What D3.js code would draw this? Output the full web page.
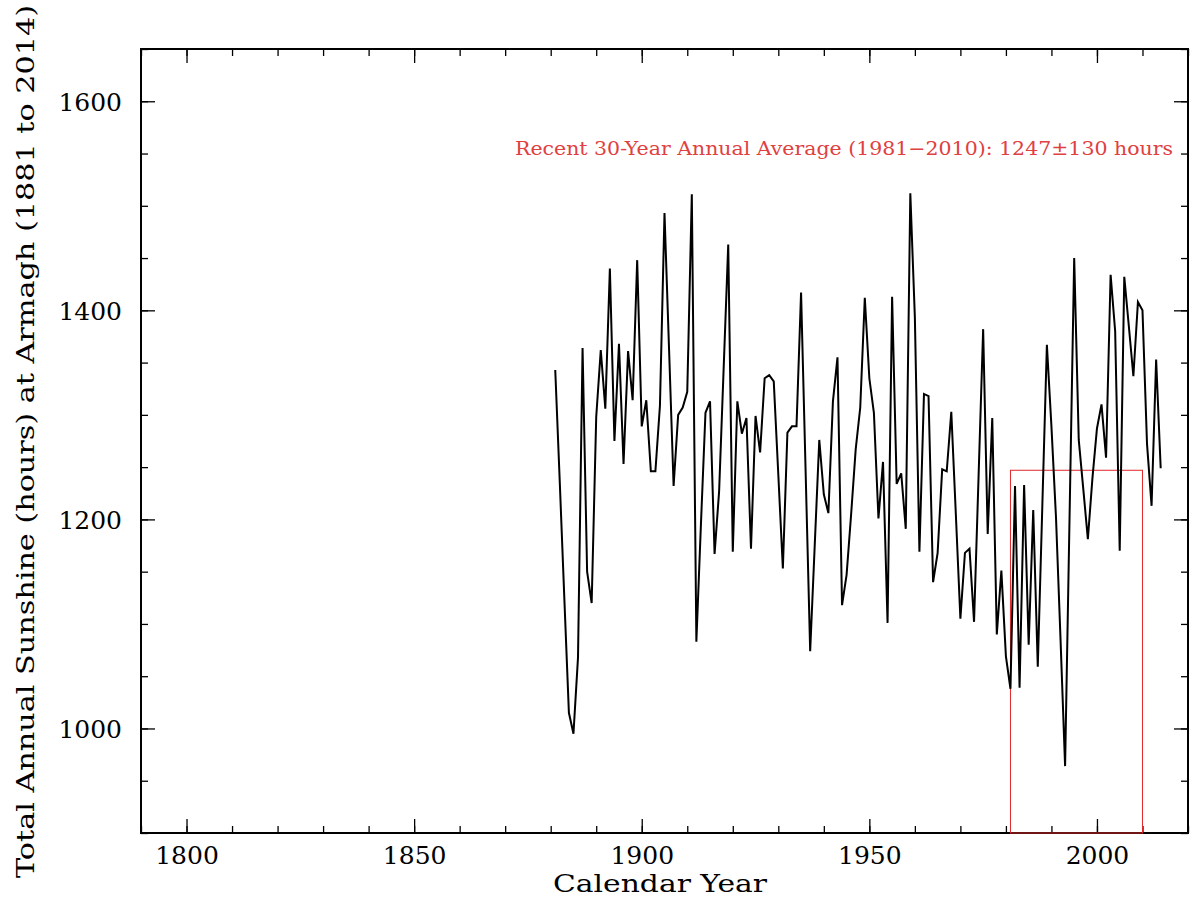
<!DOCTYPE html>
<html>
<head>
<meta charset="utf-8">
<script src="https://cdn.jsdelivr.net/npm/d3@7"></script>
<style>
  html, body { margin: 0; padding: 0; background: #fff; }
  svg { display: block; }
  text { font-family: "DejaVu Serif", serif; }
</style>
</head>
<body>
<svg id="chart" width="1196" height="901"></svg>
<script>
// ---- data ----
const startYear = 1881;
const sunshineHours = [
  1343, 1235, 1124, 1015, 995, 1068, 1364, 1150, 1120, 1298,
  1362, 1306, 1440, 1275, 1368, 1253, 1361, 1314, 1448, 1289,
  1314, 1246, 1246, 1309, 1493, 1363, 1232, 1300, 1307, 1322,
  1511, 1083, 1195, 1302, 1313, 1167, 1227, 1345, 1463, 1169,
  1313, 1282, 1297, 1172, 1299, 1264, 1335, 1338, 1332, 1243,
  1153, 1283, 1289, 1289, 1417, 1246, 1074, 1175, 1276, 1224,
  1206, 1313, 1355, 1118, 1147, 1205, 1267, 1307, 1412, 1335,
  1302, 1201, 1255, 1101, 1413, 1234, 1244, 1191, 1512, 1393,
  1169, 1320, 1318, 1140, 1168, 1248, 1246, 1303, 1205, 1105,
  1168, 1172, 1102, 1242, 1382, 1186, 1297, 1090, 1151, 1069,
  1038, 1232, 1039, 1233, 1080, 1209, 1059, 1213, 1367, 1289,
  1202, 1085, 964, 1207, 1450, 1276, 1229, 1181, 1239, 1287,
  1310, 1259, 1434, 1380, 1170, 1432, 1385, 1337, 1408, 1400,
  1272, 1213, 1353, 1249
];
const years = sunshineHours.map((_, i) => startYear + i);

const avgStart = 1981;
const avgEnd = 2010;
const avgValue = 1247;
const avgSpread = 130;

const xDomain = [1790, 2020];
const yDomain = [900, 1650];
const xMajorTicks = [1800, 1850, 1900, 1950, 2000];
const yMajorTicks = [1000, 1200, 1400, 1600];

const xLabel = "Calendar Year";
const yLabel = "Total Annual Sunshine (hours) at Armagh (1881 to 2014)";
const annotation = `Recent 30-Year Annual Average (${avgStart}\u2212${avgEnd}): ${avgValue}\u00b1${avgSpread} hours`;

// ---- layout ----
const svg = d3.select("#chart");
const mL = 141, mR = 1188, mT = 49, mB = 833;

const x = d3.scaleLinear().domain(xDomain).range([mL, mR]);
const y = d3.scaleLinear().domain(yDomain).range([mB, mT]);

const xMinor = d3.range(xDomain[0], xDomain[1] + 1, 10);
const yMinor = d3.range(yDomain[0], yDomain[1] + 1, 50);

const majorLen = 14, minorLen = 7;

function styleAxis(g) {
  g.select(".domain").remove();
  g.selectAll(".tick line").attr("stroke", "#000").attr("stroke-width", 1.3);
  g.selectAll(".tick text")
    .attr("fill", "#000")
    .style("font-family", '"DejaVu Serif", serif')
    .style("font-size", "25px");
}

// bottom
svg.append("g").attr("transform", `translate(0,${mB})`)
  .call(d3.axisBottom(x).tickValues(xMinor).tickSize(-minorLen).tickFormat(""))
  .call(styleAxis);
svg.append("g").attr("transform", `translate(0,${mB})`)
  .call(d3.axisBottom(x).tickValues(xMajorTicks).tickSize(-majorLen).tickPadding(13).tickFormat(d3.format("d")))
  .call(styleAxis);
// top
svg.append("g").attr("transform", `translate(0,${mT})`)
  .call(d3.axisTop(x).tickValues(xMinor).tickSize(-minorLen).tickFormat(""))
  .call(styleAxis);
svg.append("g").attr("transform", `translate(0,${mT})`)
  .call(d3.axisTop(x).tickValues(xMajorTicks).tickSize(-majorLen).tickFormat(""))
  .call(styleAxis);
// left
svg.append("g").attr("transform", `translate(${mL},0)`)
  .call(d3.axisLeft(y).tickValues(yMinor).tickSize(-minorLen).tickFormat(""))
  .call(styleAxis);
const yl = svg.append("g").attr("transform", `translate(${mL},0)`)
  .call(d3.axisLeft(y).tickValues(yMajorTicks).tickSize(-majorLen).tickPadding(19).tickFormat(d3.format("d")))
  .call(styleAxis);
yl.selectAll(".tick text").attr("dy", "0.38em");
// right
svg.append("g").attr("transform", `translate(${mR},0)`)
  .call(d3.axisRight(y).tickValues(yMinor).tickSize(-minorLen).tickFormat(""))
  .call(styleAxis);
svg.append("g").attr("transform", `translate(${mR},0)`)
  .call(d3.axisRight(y).tickValues(yMajorTicks).tickSize(-majorLen).tickFormat(""))
  .call(styleAxis);

// frame
svg.append("rect")
  .attr("x", mL).attr("y", mT)
  .attr("width", mR - mL).attr("height", mB - mT)
  .attr("fill", "none").attr("stroke", "#000").attr("stroke-width", 2);

// average box
svg.append("rect")
  .attr("x", x(avgStart)).attr("y", y(avgValue))
  .attr("width", x(avgEnd) - x(avgStart))
  .attr("height", y(yDomain[0]) - y(avgValue))
  .attr("fill", "none").attr("stroke", "#e02828").attr("stroke-width", 1);

// data line
svg.append("path")
  .datum(years.map((yr, i) => [yr, sunshineHours[i]]))
  .attr("fill", "none")
  .attr("stroke", "#000")
  .attr("stroke-width", 2)
  .attr("stroke-linejoin", "miter")
  .attr("d", d3.line().x(d => x(d[0])).y(d => y(d[1])));

// annotation
svg.append("text")
  .attr("x", 515).attr("y", 155)
  .attr("textLength", 658)
  .attr("lengthAdjust", "spacingAndGlyphs")
  .attr("fill", "#e04040")
  .style("font-size", "19px")
  .text(annotation);

// axis titles
svg.append("text")
  .attr("x", 553).attr("y", 892)
  .attr("textLength", 214)
  .attr("lengthAdjust", "spacingAndGlyphs")
  .attr("fill", "#000")
  .style("font-size", "25px")
  .text(xLabel);

svg.append("text")
  .attr("transform", "translate(34,878) rotate(-90)")
  .attr("x", 0).attr("y", 0)
  .attr("textLength", 873)
  .attr("lengthAdjust", "spacingAndGlyphs")
  .attr("fill", "#000")
  .style("font-size", "25px")
  .text(yLabel);
</script>
</body>
</html>
